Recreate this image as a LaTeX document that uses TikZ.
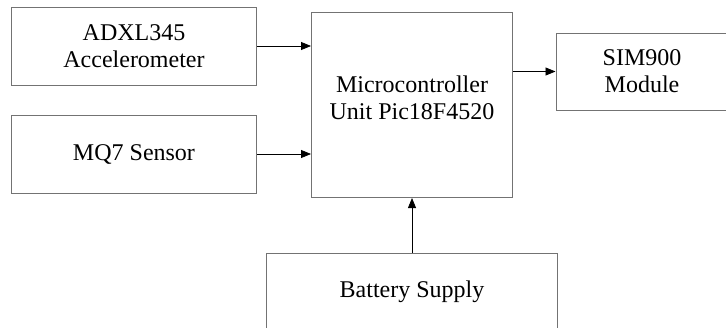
\documentclass[tikz,border=0pt]{standalone}
\usepackage{fontspec}
\setmainfont{Liberation Serif}
\newfontfamily\blockfont{Liberation Serif}
\usetikzlibrary{arrows.meta}

\begin{document}
\begin{tikzpicture}[x=1pt, y=-1pt,
    block/.style={draw=black!55, line width=1pt, align=center,
      font=\blockfont\fontsize{24}{27}\selectfont, inner sep=0pt},
    link/.style={draw=black, line width=0.8pt, -{Triangle[length=10pt, width=8pt]}}]
  \clip (0,0) rectangle (726,327);
  % sensors on the left
  \node[block, minimum width=245pt, minimum height=78pt] (acc) at (134,46) {ADXL345\\Accelerometer};
  \node[block, minimum width=245pt, minimum height=78pt] (mq7) at (134,154) {MQ7 Sensor};
  % controller
  \node[block, minimum width=201pt, minimum height=185pt] (mcu) at (412,105) {};
  \node[font=\blockfont\fontsize{24}{27}\selectfont, align=center] (mcutext) at (412,98) {Microcontroller\\Unit Pic18F4520};
  % outputs and supply
  \node[block, minimum width=172pt, minimum height=77pt] (sim) at (642,71.5) {SIM900\\Module};
  \node[block, minimum width=291pt, minimum height=78pt] (bat) at (412,292) {Battery Supply};
  \draw[link] (acc.east) -- (acc.east -| mcu.west);
  \draw[link] (mq7.east) -- (mq7.east -| mcu.west);
  \draw[link] (mcu.east |- sim.west) -- (sim.west);
  \draw[link] (bat.north) -- (mcu.south);
\end{tikzpicture}
\end{document}
